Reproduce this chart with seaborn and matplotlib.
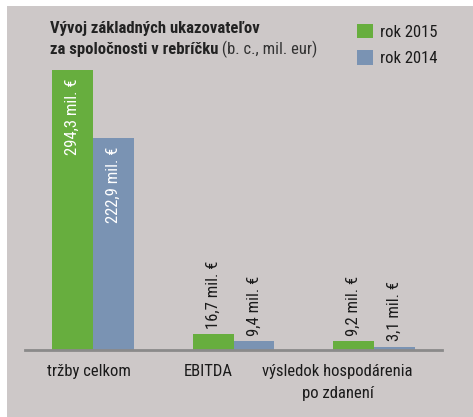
import matplotlib
matplotlib.use("Agg")
import matplotlib.pyplot as plt
import seaborn as sns
import pandas as pd
from matplotlib.patches import Rectangle
from matplotlib import font_manager

categories = ["tržby celkom", "EBITDA", "výsledok hospodárenia\npo zdanení"]
values_2015 = [294.3, 16.7, 9.2]
values_2014 = [222.9, 9.4, 3.1]
labels_2015 = ["294,3 mil. €", "16,7 mil. €", "9,2 mil. €"]
labels_2014 = ["222,9 mil. €", "9,4 mil. €", "3,1 mil. €"]
series = ["rok 2015", "rok 2014"]
title_bold_1 = "Vývoj základných ukazovateľov"
title_bold_2 = "za spoločnosti v rebríčku"
title_normal_2 = " (b. c., mil. eur)"

GREEN = "#67ae3e"
BLUE = "#7a93b3"
BG = "#cdc8c8"

sns.set_theme(style="white")
available = {f.name for f in font_manager.fontManager.ttflist}
chosen = None
for cand in ["Roboto Condensed", "Liberation Sans Narrow", "Arial Narrow", "Roboto"]:
    if cand in available:
        chosen = cand
        break
FONT = [chosen, "DejaVu Sans"] if chosen else ["DejaVu Sans"]
plt.rcParams["font.family"] = FONT
condensed = chosen in ("Roboto Condensed", "Liberation Sans Narrow", "Arial Narrow")
k = 1.0 if condensed else 0.9

df = pd.DataFrame({
    "kategoria": categories * 2,
    "rok": [series[0]] * 3 + [series[1]] * 3,
    "hodnota": values_2015 + values_2014,
    "popis": labels_2015 + labels_2014,
})

W, H = 473, 417
fig = plt.figure(figsize=(W / 100, H / 100), dpi=100)
fig.patch.set_facecolor("white")
fig.add_artist(Rectangle((7 / W, 0), 1 - 7 / W, 1 - 6 / H, transform=fig.transFigure,
                         facecolor=BG, edgecolor="none", zorder=-10))

ax = fig.add_axes([25 / W, (H - 350) / H, 417 / W, 280 / H])
ax.set_facecolor("none")

sns.barplot(data=df, x="kategoria", y="hodnota", hue="rok", order=categories,
            hue_order=series, palette=[GREEN, BLUE], width=0.58, ax=ax,
            saturation=1, legend=False, linewidth=0)

ax.set_ylim(0, max(values_2015))
ax.set_xlim(-0.484, 2.484)

# bar labels
for container, labs in zip(ax.containers, [labels_2015, labels_2014]):
    for bar, lab in zip(container, labs):
        x = bar.get_x() + bar.get_width() / 2
        h = bar.get_height()
        if h > 100:
            ax.annotate(lab, (x, h), xytext=(0, -6), textcoords="offset points",
                        rotation=90, ha="center", va="top", color="white", fontsize=12 * k)
        else:
            ax.annotate(lab, (x, h), xytext=(0, 4), textcoords="offset points",
                        rotation=90, ha="center", va="bottom", color="#1a1a1a", fontsize=12 * k)

for s in ["top", "right", "left"]:
    ax.spines[s].set_visible(False)
ax.spines["bottom"].set_color("#8a8a8a")
ax.spines["bottom"].set_linewidth(2)
ax.set_yticks([])
ax.set_xlabel("")
ax.set_ylabel("")
ax.set_xticks([0 - 0.03, 1 - 0.18, 2 - 0.26])
ax.set_xticklabels(categories, fontsize=12 * k, color="#1a1a1a", linespacing=1.6)
ax.tick_params(axis="x", length=0, pad=10)

# title
tfs = 12 * (1.0 if condensed else 0.84)
fig.text(50 / W, 1 - 33 / H, title_bold_1, fontsize=tfs, fontweight="bold",
         color="#222222", va="baseline", ha="left")
t2 = fig.text(50 / W, 1 - 54 / H, title_bold_2, fontsize=tfs, fontweight="bold",
              color="#222222", va="baseline", ha="left")
fig.canvas.draw()
bb = t2.get_window_extent()
fig.text(bb.x1 / W, 1 - 54 / H, title_normal_2, fontsize=tfs, color="#333333",
         va="baseline", ha="left")

# legend
handles = [Rectangle((0, 0), 1, 1, facecolor=c, edgecolor="none") for c in [GREEN, BLUE]]
lfs = 12 * k
fig.legend(handles, series, loc="upper left", bbox_to_anchor=(357 / W, 1 - 24 / H),
           frameon=False, fontsize=lfs, handlelength=16 / (lfs * 100 / 72),
           handleheight=16 / (lfs * 100 / 72),
           handletextpad=0.4, labelspacing=0.62, borderpad=0, borderaxespad=0,
           labelcolor="#1a1a1a")

fig.savefig("out.png", dpi=100)
